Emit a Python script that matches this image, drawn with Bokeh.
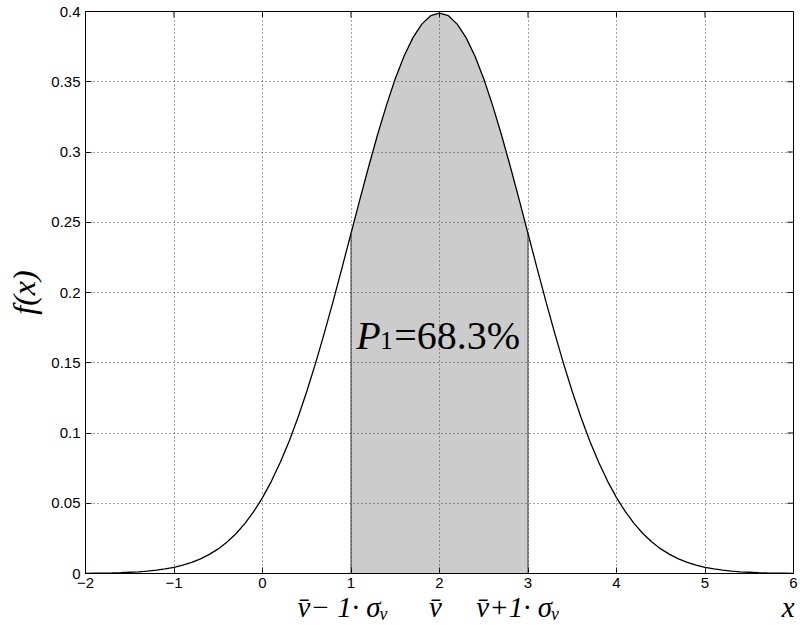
from bokeh.plotting import figure
from bokeh.models import Range1d, FixedTicker, LinearAxis, Label
from bokeh.embed import file_html
from bokeh.resources import INLINE
import numpy as np

# ---- data ----
x_vals = [round(-2 + 0.1 * i, 1) for i in range(81)]
f_vals = [0.0001, 0.0002, 0.0003, 0.0004, 0.0006, 0.0009, 0.0012, 0.0017, 0.0024, 0.0033,
          0.0044, 0.0060, 0.0079, 0.0104, 0.0136, 0.0175, 0.0224, 0.0283, 0.0355, 0.0440,
          0.0540, 0.0656, 0.0790, 0.0940, 0.1109, 0.1295, 0.1497, 0.1714, 0.1942, 0.2179,
          0.2420, 0.2661, 0.2897, 0.3123, 0.3332, 0.3521, 0.3683, 0.3814, 0.3910, 0.3970,
          0.3989,
          0.3970, 0.3910, 0.3814, 0.3683, 0.3521, 0.3332, 0.3123, 0.2897, 0.2661, 0.2420,
          0.2179, 0.1942, 0.1714, 0.1497, 0.1295, 0.1109, 0.0940, 0.0790, 0.0656, 0.0540,
          0.0440, 0.0355, 0.0283, 0.0224, 0.0175, 0.0136, 0.0104, 0.0079, 0.0060, 0.0044,
          0.0033, 0.0024, 0.0017, 0.0012, 0.0009, 0.0006, 0.0004, 0.0003, 0.0002, 0.0001]
shade_from = 1.0
shade_to = 3.0
prob_text = "=68.3%"

x_ticks = [-2, -1, 0, 1, 2, 3, 4, 5, 6]
x_tick_labels = ["\u22122", "\u22121", "0", "1", "2", "3", "4", "5", "6"]
y_ticks = [0, 0.05, 0.1, 0.15, 0.2, 0.25, 0.3, 0.35, 0.4]
y_tick_labels = ["0", "0.05", "0.1", "0.15", "0.2", "0.25", "0.3", "0.35", "0.4"]

marker_pos = [0.91, 1.955, 2.89, 5.94]
marker_labels = ["v\u0304\u2212 1\u00b7 \u03c3\u1d65", "v\u0304", "v\u0304+1\u00b7 \u03c3\u1d65", "x"]

# ---- figure ----
p = figure(width=800, height=625, x_range=Range1d(-2, 6), y_range=Range1d(0, 0.4),
           output_backend="svg", toolbar_location=None,
           min_border_left=85, min_border_right=7, min_border_top=11, min_border_bottom=52)
p.outline_line_color = "black"
p.outline_line_width = 1
p.background_fill_color = "white"

xa = np.array(x_vals)
ya = np.array(f_vals)
mask = (xa >= shade_from - 1e-9) & (xa <= shade_to + 1e-9)
xs = xa[mask]
ys = ya[mask]

p.varea(x=xs, y1=np.zeros_like(ys), y2=ys, fill_color="#cccccc")
p.segment(x0=[xs[0], xs[-1]], y0=[0, 0], x1=[xs[0], xs[-1]], y1=[ys[0], ys[-1]],
          line_color="#333333", line_width=1)
p.line(xa, ya, line_color="black", line_width=1.3)

# inward ticks on the top and right edges (outer half clipped by the frame)
p.scatter(x=x_ticks, y=[p.y_range.end] * len(x_ticks), marker="dash", size=12,
          angle=np.pi / 2, line_color="black", line_width=1)
p.scatter(x=[p.x_range.end] * len(y_ticks), y=y_ticks, marker="dash", size=12,
          line_color="black", line_width=1)

tick_font = "Liberation Sans"

def style_axis(ax, ticks, labels):
    ax.ticker = FixedTicker(ticks=ticks)
    ax.major_tick_in = 6
    ax.major_tick_out = 0
    ax.minor_tick_in = 0
    ax.minor_tick_out = 0
    ax.axis_line_color = "black"
    ax.major_tick_line_color = "black"
    ax.major_label_overrides = {t: l for t, l in zip(ticks, labels)}
    ax.major_label_text_font = tick_font
    ax.major_label_text_font_size = "15px"
    ax.major_label_text_color = "black"

style_axis(p.xaxis[0], x_ticks, x_tick_labels)
p.xaxis[0].major_label_standoff = 4
style_axis(p.yaxis[0], y_ticks, y_tick_labels)
p.yaxis[0].major_label_standoff = 5
p.yaxis[0].axis_label = "f(x)"
p.yaxis[0].axis_label_text_font = "Liberation Serif"
p.yaxis[0].axis_label_text_font_style = "italic"
p.yaxis[0].axis_label_text_font_size = "32px"
p.yaxis[0].axis_label_text_color = "black"
p.yaxis[0].axis_label_standoff = 6

# second row of x labels: v̄ − 1·σ_v, v̄, v̄ + 1·σ_v and the axis name x
mark_axis = LinearAxis()
mark_axis.ticker = FixedTicker(ticks=marker_pos)
mark_axis.major_label_overrides = {t: l for t, l in zip(marker_pos, marker_labels)}
mark_axis.major_tick_in = 0
mark_axis.major_tick_out = 0
mark_axis.minor_tick_in = 0
mark_axis.minor_tick_out = 0
mark_axis.axis_line_color = None
mark_axis.major_tick_line_color = None
mark_axis.major_label_standoff = 0
mark_axis.major_label_text_font = "Liberation Serif"
mark_axis.major_label_text_font_style = "italic"
mark_axis.major_label_text_font_size = "29px"
mark_axis.major_label_text_color = "black"
p.add_layout(mark_axis, "below")

for g in (p.xgrid[0], p.ygrid[0]):
    g.grid_line_color = "#444444"
    g.grid_line_dash = "1 3"
    g.grid_line_width = 1
    g.level = "overlay"
p.xgrid[0].ticker = FixedTicker(ticks=x_ticks)
p.ygrid[0].ticker = FixedTicker(ticks=y_ticks)

serif = "Liberation Serif"
# P_1 = 68.3 %
p.add_layout(Label(x=1.06, y=0.1696, text="P", text_font=serif, text_font_style="italic",
                   text_font_size="40px", text_color="black", text_baseline="alphabetic"))
p.add_layout(Label(x=1.06, y=0.1661, x_offset=24, text="1", text_font=serif,
                   text_font_size="25px", text_color="black", text_baseline="alphabetic"))
p.add_layout(Label(x=1.06, y=0.1696, x_offset=38, text=prob_text, text_font=serif,
                   text_font_size="40px", text_color="black", text_baseline="alphabetic"))

open("out.html", "w").write(file_html(p, INLINE))
